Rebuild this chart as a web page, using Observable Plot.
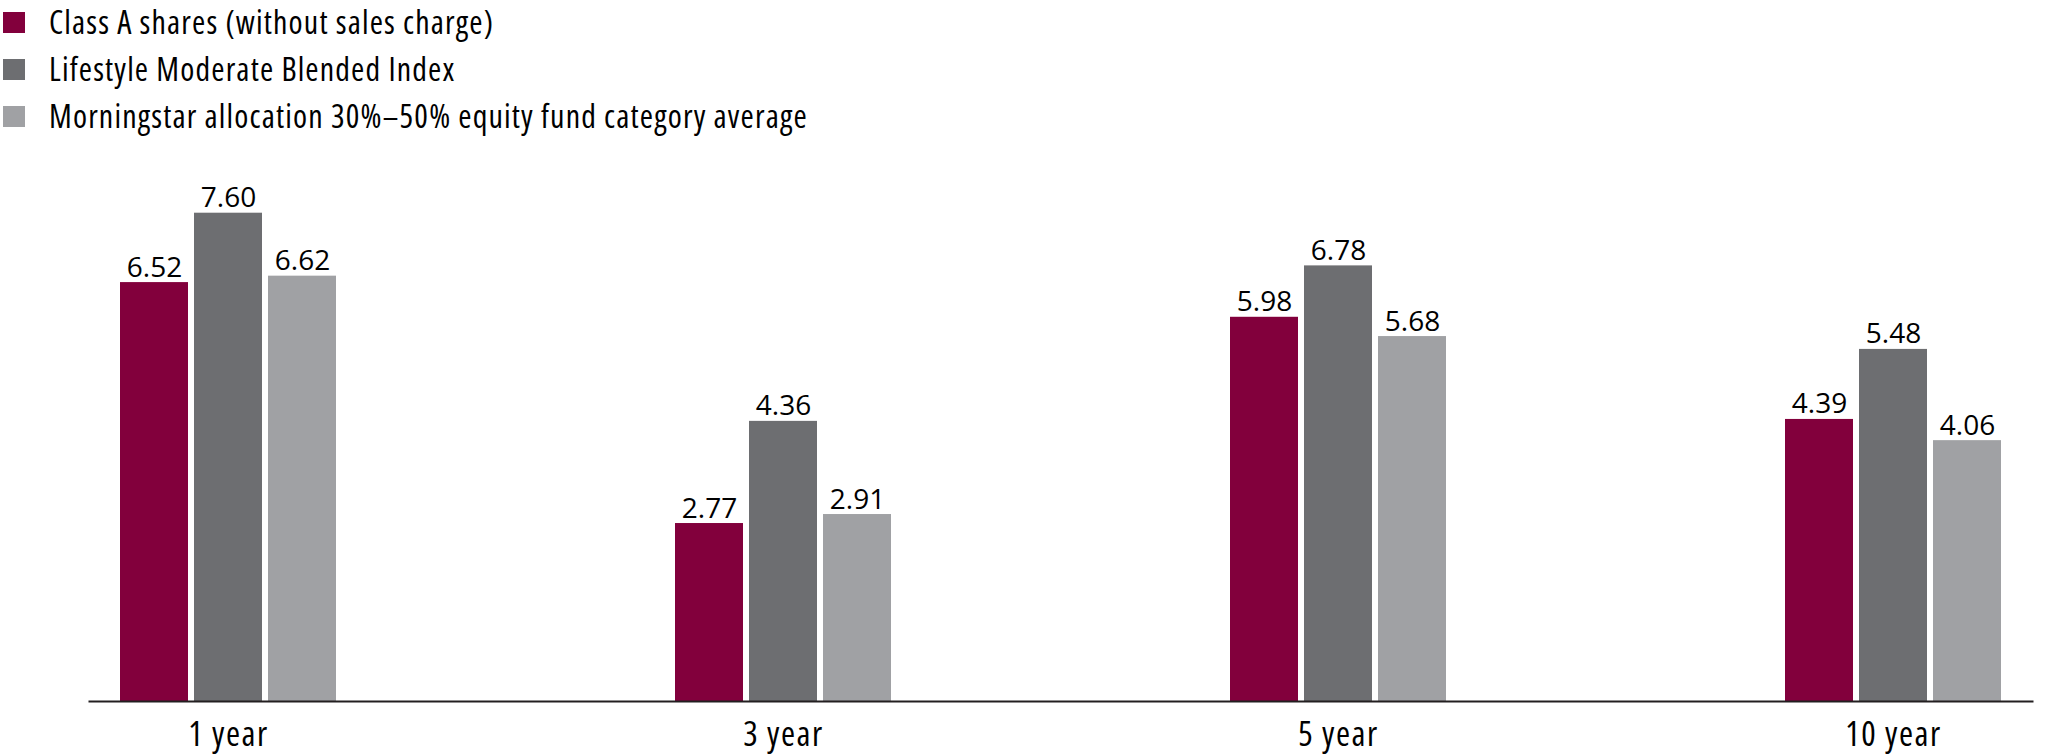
<!DOCTYPE html>
<html><head><meta charset="utf-8">
<script src="https://cdn.jsdelivr.net/npm/d3@7"></script>
<script src="https://cdn.jsdelivr.net/npm/@observablehq/plot@0.6"></script>
<style>
body{margin:0;background:#fff;width:2045px;height:754px;overflow:hidden}
#legend{height:140px;position:relative;font-family:"Open Sans",sans-serif;font-stretch:condensed;font-size:32px;letter-spacing:1.15px;line-height:1;color:#000}
.row{position:absolute;left:3px;display:flex;align-items:center;height:34px;white-space:nowrap}
.sw{width:22px;height:21px;margin-right:24px;flex:none}
#chart svg{display:block;overflow:visible}
#chart svg [aria-label="fx-axis tick label"]{font-stretch:condensed;letter-spacing:1.5px}
</style></head><body>
<div id="legend"></div><div id="chart"></div>
<script>
const periods = ["1 year", "3 year", "5 year", "10 year"];
const series = ["Class A shares (without sales charge)", "Lifestyle Moderate Blended Index", "Morningstar allocation 30%–50% equity fund category average"];
const classA = [6.52, 2.77, 5.98, 4.39];
const blended = [7.60, 4.36, 6.78, 5.48];
const morningstar = [6.62, 2.91, 5.68, 4.06];
const colors = ["#82003c", "#6d6e71", "#a0a1a4"];

const valuesBySeries = [classA, blended, morningstar];
const data = [];
periods.forEach((p, i) => series.forEach((s, j) => data.push({period: p, series: s, value: valuesBySeries[j][i]})));

const legend = document.getElementById("legend");
const rowCenters = [22, 69, 116];
series.forEach((s, j) => {
  const row = document.createElement("div");
  row.className = "row";
  row.style.top = (rowCenters[j] - 17) + "px";
  const sw = document.createElement("div");
  sw.className = "sw";
  sw.style.background = colors[j];
  const t = document.createElement("span");
  t.textContent = s;
  row.appendChild(sw); row.appendChild(t);
  legend.appendChild(row);
});

const chart = Plot.plot({
  width: 2045, height: 614,
  marginLeft: 76, marginRight: 0, marginTop: 47, marginBottom: 53,
  style: {fontFamily: "'Open Sans', sans-serif", fontSize: "32px", color: "#000", background: "#fff"},
  fx: {domain: periods, paddingInner: 0.5, paddingOuter: 0.022, label: null, axis: null},
  x: {domain: series, paddingInner: 0.081, paddingOuter: 0.416, axis: null},
  y: {domain: [0, 8], axis: null},
  color: {domain: series, range: colors},
  marks: [
    Plot.barY(data, {fx: "period", x: "series", y: "value", fill: "series"}),
    Plot.text(data, {fx: "period", x: "series", y: "value", text: d => d.value.toFixed(2), dy: -6, lineAnchor: "bottom", fontSize: 28, fontFamily: "'Open Sans', sans-serif", fill: "#000"}),
    Plot.axisFx({anchor: "bottom", tickSize: 0, tickPadding: 20, label: null, fontSize: 34, fill: "#000"}),
    Plot.frame({anchor: "bottom", facet: "super", stroke: "#231f20", strokeWidth: 2})
  ]
});
document.getElementById("chart").appendChild(chart);
</script>
</body></html>
